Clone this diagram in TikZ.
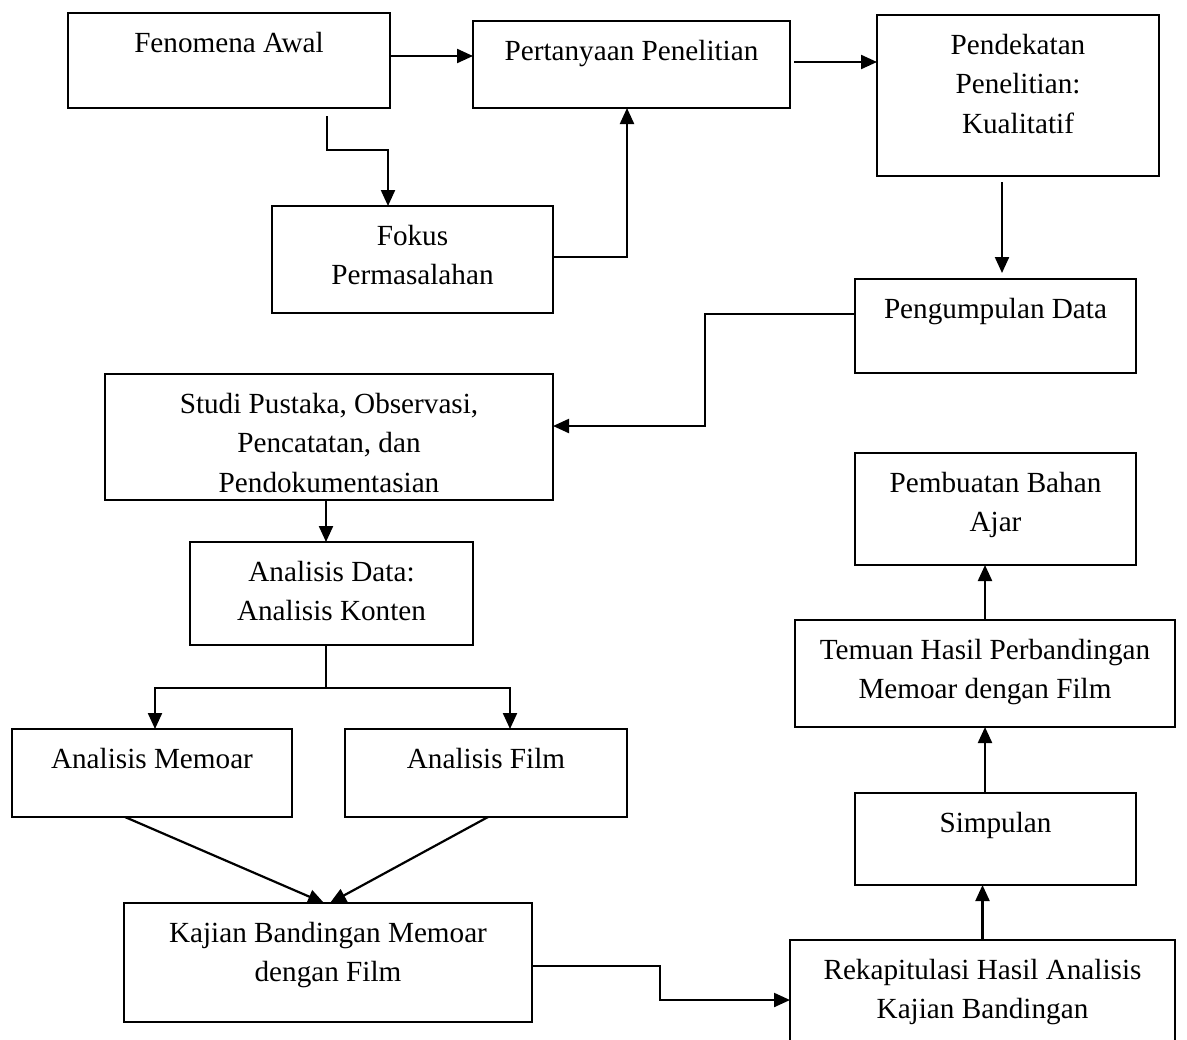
\documentclass[tikz,border=0pt]{standalone}
\usepackage{fontspec}
\setmainfont{Liberation Serif}
\usetikzlibrary{arrows.meta}
\tikzstyle{arrow} = [line width=1.1pt,-{Triangle[length=8pt,width=7pt]}]
\tikzstyle{stage} = [draw, line width=0.9pt, inner sep=0pt, outer sep=0pt, font=\fontsize{14.6}{19.75}\selectfont]
\newcommand{\stagetext}[3]{\parbox[c][#2][t]{#1}{\centering\rule{0pt}{19.5pt}#3}}

\begin{document}
\begin{tikzpicture}[x=0.5pt, y=-0.5pt]
    \useasboundingbox (0,0) rectangle (1187,1039);

    \node (fen) [stage] at (229,60.5) {\stagetext{161pt}{47.5pt}{Fenomena Awal}};

    \node (pert) [stage] at (631.5,64.5) {\stagetext{158.5pt}{43.5pt}{Pertanyaan Penelitian}};
    \draw [arrow] ([yshift=2.25pt]fen.east) -- ([yshift=2.25pt]fen.east -| pert.west);

    \node (pend) [stage] at (1018,95.5) {\stagetext{141pt}{80.5pt}{Pendekatan\\ Penelitian:\\ Kualitatif}};
    \draw [arrow] ([xshift=2pt,yshift=1.25pt]pert.east) -- ([yshift=1.25pt]pert.east -| pend.west);

    \node (fok) [stage] at (412.5,259.5) {\stagetext{140.5pt}{53.5pt}{Fokus\\ Permasalahan}};
    \draw [arrow] ([xshift=49pt,yshift=-4pt]fen.south) -- ++(0,-17pt) -| ([xshift=-12.25pt]fok.north);
    \draw [arrow] ([yshift=1.25pt]fok.east) -| ([xshift=-2.25pt]pert.south);

    \node (peng) [stage] at (995.5,326) {\stagetext{140.5pt}{47pt}{Pengumpulan Data}};
    \draw [arrow, shorten <=3pt, shorten >=3pt] ([xshift=-8pt]pend.south) -- ([xshift=-8pt]pend.south |- peng.north);

    \node (studi) [stage] at (329,437) {\stagetext{224pt}{63pt}{Studi Pustaka, Observasi,\\ Pencatatan, dan\\ Pendokumentasian}};
    \draw [arrow] ([yshift=6pt]peng.west) -- ++(-75pt,0) |- ([yshift=5.5pt]studi.east);

    \node (anal) [stage] at (331.5,593.5) {\stagetext{141.5pt}{51.5pt}{Analisis Data:\\ Analisis Konten}};
    \draw [arrow] ([xshift=-1.5pt]studi.south) -- ([xshift=-1.5pt]studi.south |- anal.north);

    \node (memo) [stage] at (152,773) {\stagetext{140pt}{44pt}{Analisis Memoar}};
    \node (film) [stage] at (486,773) {\stagetext{141pt}{44pt}{Analisis Film}};
    \draw [arrow] ([xshift=-2.75pt]anal.south) -- ++(0,-21.5pt) -| ([xshift=1.5pt]memo.north);
    \draw [arrow] ([xshift=-2.75pt]anal.south) -- ++(0,-21.5pt) -| ([xshift=12pt]film.north);

    \node (kaj) [stage] at (328,962.5) {\stagetext{204pt}{59.5pt}{Kajian Bandingan Memoar\\ dengan Film}};
    \draw [arrow] ([xshift=-13.5pt]memo.south) -- ([xshift=-2pt]kaj.north);
    \draw [arrow] ([xshift=1pt]film.south) -- ([xshift=1pt]kaj.north);

    \node (rek) [stage] at (982.5,1000) {\stagetext{192.5pt}{60pt}{Rekapitulasi Hasil Analisis\\ Kajian Bandingan}};
    \draw [arrow] ([yshift=-1.75pt]kaj.east) -- ++(64pt,0) |- (rek.west);

    \node (simp) [stage] at (995.5,839) {\stagetext{140.5pt}{46pt}{Simpulan}};
    \draw [arrow] (rek.north) -- (rek.north |- simp.south);

    \node (tem) [stage] at (985,673.5) {\stagetext{190pt}{53.5pt}{Temuan Hasil Perbandingan\\ Memoar dengan Film}};
    \draw [arrow] (tem.south |- simp.north) -- (tem.south);

    \node (pemb) [stage] at (995.5,509) {\stagetext{140.5pt}{56pt}{Pembuatan Bahan\\ Ajar}};
    \draw [arrow] (tem.north) -- (tem.north |- pemb.south);

  \end{tikzpicture}
\end{document}
